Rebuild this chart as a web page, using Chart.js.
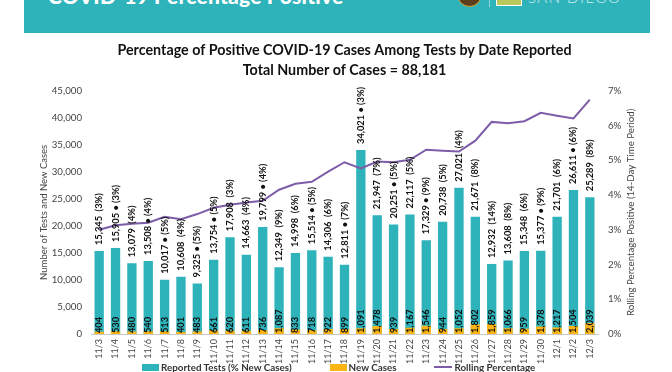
<!DOCTYPE html>
<html>
<head>
<meta charset="utf-8">
<script src="https://cdn.jsdelivr.net/npm/chart.js@4/dist/chart.umd.min.js"></script>
<style>
    html, body { margin: 0; padding: 0; background: #fff; }
    #page { position: relative; width: 672px; height: 372px; overflow: hidden; font-family: Lato, sans-serif; }
    #chart { position: absolute; left: 0; top: 0; }
    .banner { position: absolute; left: 24px; top: -10px; width: 626px; height: 43px; background: #2fb3bb; }
    .banner-title { position: absolute; left: 48px; top: -16px; color: #fff; font-weight: 900; font-size: 21px; line-height: 24px; letter-spacing: 0.2px; white-space: nowrap; }
    .seal { position: absolute; left: 457px; top: -18px; width: 23px; height: 23px; border-radius: 50%; background: #5b3f1c; border: 1px solid #d8a93a; }
    .divider { position: absolute; left: 489px; top: 0; width: 1px; height: 7px; background: #8fd3d7; }
    .county { position: absolute; left: 496px; top: 0; width: 26px; height: 6px; background: #b9c85a; border: 1px solid #fff; border-top: 0; box-sizing: border-box; }
    .county-name { position: absolute; left: 528px; top: -13px; color: #cdeef0; font-weight: 300; font-size: 15px; line-height: 20px; letter-spacing: 1.5px; white-space: nowrap; }
    #legend { position: absolute; left: 142px; top: 360px; display: flex; gap: 38px; font-size: 9.8px; line-height: 14px; font-weight: 700; color: #333; white-space: nowrap; }
    #legend .item { display: flex; align-items: center; gap: 2px; }
</style>
</head>
<body>
<div id="page">
    <canvas id="chart" width="672" height="372"></canvas>
    <div class="banner"></div>
    <div class="banner-title">COVID-19 Percentage Positive</div>
    <div class="seal"></div>
    <div class="divider"></div>
    <div class="county"></div>
    <div class="county-name">SAN DIEGO</div>
    <div id="legend"></div>
</div>
<script>
const dates = ['11/3', '11/4', '11/5', '11/6', '11/7', '11/8', '11/9', '11/10', '11/11', '11/12', '11/13', '11/14', '11/15', '11/16', '11/17', '11/18', '11/19', '11/20', '11/21', '11/22', '11/23', '11/24', '11/25', '11/26', '11/27', '11/28', '11/29', '11/30', '12/1', '12/2', '12/3'];
const reportedTests = [15345, 15905, 13079, 13508, 10017, 10608, 9325, 13754, 17908, 14663, 19799, 12349, 14998, 15514, 14306, 12811, 34021, 21947, 20251, 22117, 17329, 20738, 27021, 21671, 12932, 13608, 15348, 15377, 21701, 26611, 25289];
const newCasePercent = [3, 3, 4, 4, 5, 4, 5, 5, 3, 4, 4, 9, 6, 5, 6, 7, 3, 7, 5, 5, 9, 5, 4, 8, 14, 8, 6, 9, 6, 6, 8];
const starred = ['11/4', '11/6', '11/7', '11/9', '11/10', '11/13', '11/16', '11/18', '11/19', '11/21', '11/23', '11/30', '12/2'];
const newCases = [404, 530, 480, 540, 513, 401, 483, 661, 620, 611, 736, 1087, 833, 718, 922, 899, 1091, 1478, 939, 1167, 1546, 944, 1052, 1802, 1859, 1066, 959, 1378, 1217, 1504, 2039];
const rollingPercent = [3.0, 3.13, 3.17, 3.2, 3.37, 3.3, 3.45, 3.63, 3.72, 3.78, 3.83, 4.15, 4.32, 4.38, 4.67, 4.94, 4.76, 4.96, 4.94, 5.01, 5.3, 5.27, 5.25, 5.56, 6.1, 6.06, 6.12, 6.36, 6.28, 6.2, 6.74];

const fontFamily = 'Lato, sans-serif';

// Rotated value labels above the test bars and inside the new case bars
const barLabels = {
    id: 'barLabels',
    afterDatasetsDraw(chart) {
        const ctx = chart.ctx;
        const x = chart.scales.x;
        const y = chart.scales.y;
        ctx.save();
        ctx.fillStyle = '#111';
        ctx.textAlign = 'left';
        ctx.textBaseline = 'middle';
        ctx.font = `700 9.3px ${fontFamily}`;
        dates.forEach((date, i) => {
            const mark = starred.includes(date) ? ' \u2022 ' : '  ';
            const text = `${reportedTests[i].toLocaleString('en-US')}${mark}(${newCasePercent[i]}%)`;

            ctx.save();
            ctx.translate(x.getPixelForValue(i), y.getPixelForValue(reportedTests[i]) - 6);
            ctx.rotate(-Math.PI / 2);
            ctx.fillText(text, 0, 0);
            ctx.restore();

            ctx.save();
            ctx.translate(x.getPixelForValue(i), y.getPixelForValue(0) - 1);
            ctx.rotate(-Math.PI / 2);
            ctx.fillText(newCases[i].toLocaleString('en-US'), 0, 0);
            ctx.restore();
        });
        ctx.restore();
    }
};

// The right axis title reads bottom to top, Chart.js would turn it the other way
const rightAxisTitle = {
    id: 'rightAxisTitle',
    afterDraw(chart) {
        const ctx = chart.ctx;
        const area = chart.chartArea;
        ctx.save();
        ctx.translate(631, (area.top + area.bottom) / 2);
        ctx.rotate(-Math.PI / 2);
        ctx.fillStyle = '#444';
        ctx.textAlign = 'center';
        ctx.textBaseline = 'middle';
        ctx.font = `9.7px ${fontFamily}`;
        ctx.fillText('Rolling Percentage Positive (14-Day Time Period)', 0, 0);
        ctx.restore();
    }
};

const chart = new Chart(document.getElementById('chart'), {
    type: 'bar',
    data: {
        labels: dates,
        datasets: [
            {
                label: 'Reported Tests (% New Cases)',
                data: reportedTests,
                backgroundColor: '#2fb3bb',
                yAxisID: 'y',
                order: 3
            },
            {
                label: 'New Cases',
                data: newCases,
                backgroundColor: '#fdb515',
                yAxisID: 'y',
                order: 2
            },
            {
                type: 'line',
                label: 'Rolling Percentage',
                data: rollingPercent,
                borderColor: '#7d5ca8',
                backgroundColor: '#7d5ca8',
                borderWidth: 2,
                pointRadius: 0,
                tension: 0,
                yAxisID: 'y1',
                order: 1
            }
        ]
    },
    options: {
        responsive: false,
        animation: false,
        layout: { padding: { left: 0, right: 0, top: 0, bottom: 3 } },
        datasets: { bar: { grouped: false, barPercentage: 0.57, categoryPercentage: 1 } },
        plugins: {
            title: {
                display: true,
                fullSize: false,
                text: ['Percentage of Positive COVID-19 Cases Among Tests by Date Reported', 'Total Number of Cases = 88,181'],
                color: '#111',
                font: { family: fontFamily, size: 14.3, weight: '700', lineHeight: 1.42 },
                padding: { top: 40, bottom: 10 }
            },
            legend: { display: false },
            tooltip: { enabled: false }
        },
        scales: {
            x: {
                grid: { display: false, drawTicks: false },
                border: { color: '#c8c8c8' },
                ticks: { color: '#444', font: { family: fontFamily, size: 9 }, maxRotation: 90, minRotation: 90, autoSkip: false, padding: 5 }
            },
            y: {
                min: 0,
                max: 45000,
                afterFit(scale) { scale.width = 91; },
                grid: { display: false, drawTicks: false },
                border: { display: false },
                title: { display: true, text: 'Number of Tests and New Cases', color: '#444', font: { family: fontFamily, size: 9.5 }, padding: { top: 38, bottom: 0 } },
                ticks: { stepSize: 5000, color: '#444', font: { family: fontFamily, size: 9.7 }, padding: 9, callback: v => v.toLocaleString('en-US') }
            },
            y1: {
                position: 'right',
                min: 0,
                max: 7,
                afterFit(scale) { scale.width = 74; },
                grid: { display: false, drawTicks: false },
                border: { display: false },
                ticks: { stepSize: 1, color: '#444', font: { family: fontFamily, size: 9.7 }, padding: 10, callback: v => v + '%' }
            }
        }
    },
    plugins: [barLabels, rightAxisTitle]
});

// Legend is built by hand so its items can sit further apart than the built in one allows
const legendEl = document.getElementById('legend');
chart.data.datasets.forEach(ds => {
    const item = document.createElement('div');
    item.className = 'item';
    const swatch = document.createElement('span');
    swatch.style.display = 'inline-block';
    swatch.style.width = ds.type === 'line' ? '18px' : '17px';
    swatch.style.height = ds.type === 'line' ? '2px' : '7px';
    swatch.style.background = ds.backgroundColor;
    const text = document.createElement('span');
    text.textContent = ds.label;
    item.append(swatch, text);
    legendEl.append(item);
});
</script>
</body>
</html>
